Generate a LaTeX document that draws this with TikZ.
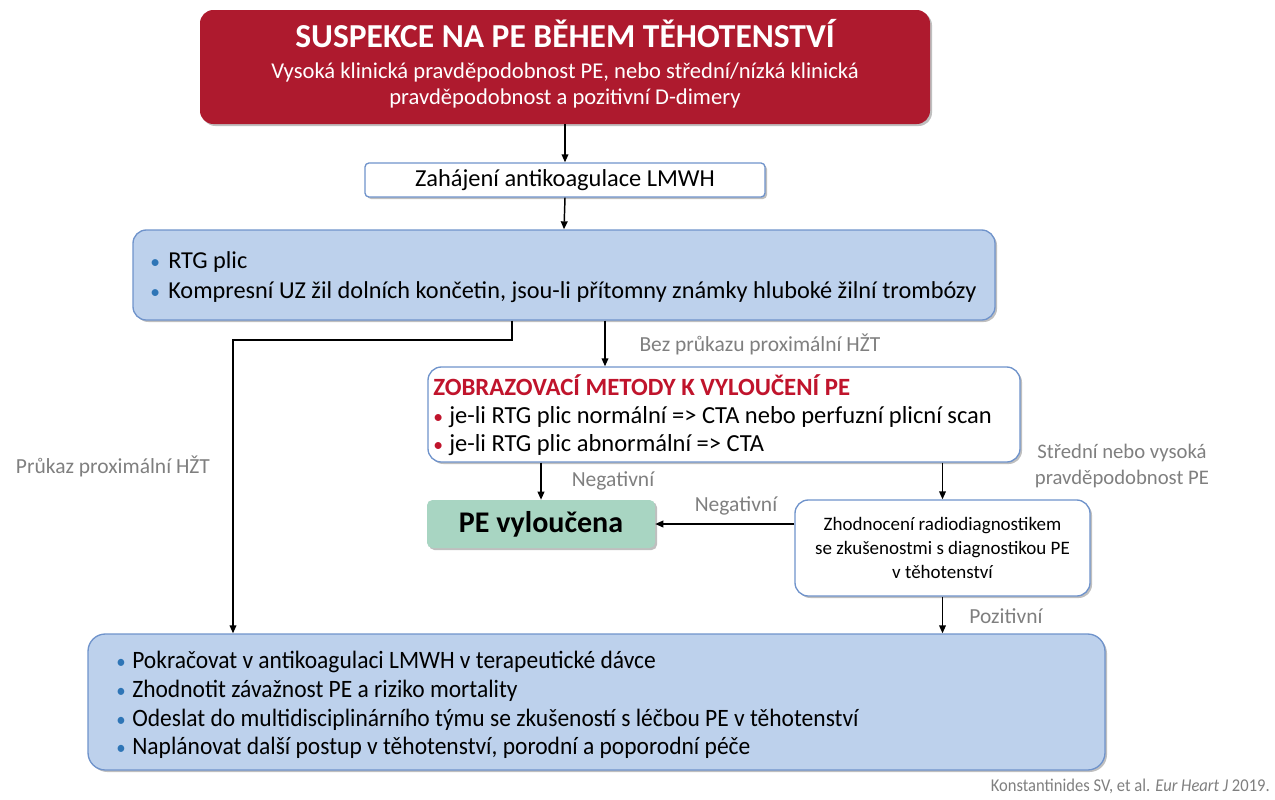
\documentclass[tikz,border=0pt]{standalone}
\usepackage{fontspec}
\setmainfont{Carlito}
\newfontfamily\cond{Carlito}[FakeStretch=0.94]
\newfontfamily\condb{Carlito}[FakeStretch=0.92]
\usetikzlibrary{shadows,arrows.meta}
\definecolor{pered}{HTML}{AE1A2E}
\definecolor{boxblue}{HTML}{BDD1EC}
\definecolor{edgeblue}{HTML}{6F93CB}
\definecolor{pegreen}{HTML}{A8D5C2}
\definecolor{bulblue}{HTML}{2E75B6}
\definecolor{bulred}{HTML}{C0142C}
\definecolor{labgray}{HTML}{7F7F7F}
\newcommand\fs[2]{\fontsize{\fpeval{#1*0.75}pt}{\fpeval{#2*0.75}pt}\selectfont}
\newcommand\blt[2]{\makebox[#2][l]{\textcolor{#1}{\scalebox{0.8}{•}}}}
\tikzset{
  shd/.style={drop shadow={shadow xshift=1.5pt,shadow yshift=-1.5pt,opacity=0.25,fill=black}},
  box/.style={shape=rectangle,shd,inner sep=0pt},
  arr/.style={line width=1.1pt,-{Triangle[length=6pt,width=5pt]}},
  lab/.style={text=labgray,font=\fs{21.5}{26},inner sep=0pt,align=center},
  txt/.style={inner sep=0pt}
}
\begin{document}
\begin{tikzpicture}[x=0.75pt,y=-0.75pt]
\useasboundingbox (0,0) rectangle (1275,800);
% boxes
\node[box,fill=pered,rounded corners=10pt,minimum width=730*0.75pt,minimum height=114*0.75pt] (top) at (565,67) {};
\node[box,fill=white,draw=edgeblue,line width=1pt,rounded corners=3pt,minimum width=400*0.75pt,minimum height=34*0.75pt] (lmwh) at (565,180) {};
\node[box,fill=boxblue,draw=edgeblue,line width=1pt,rounded corners=10pt,minimum width=862*0.75pt,minimum height=90*0.75pt] (rtg) at (564,275) {};
\node[box,fill=white,draw=edgeblue,line width=1pt,rounded corners=10pt,minimum width=592*0.75pt,minimum height=95*0.75pt] (zob) at (724,414.5) {};
\node[box,fill=pegreen,rounded corners=4pt,minimum width=228*0.75pt,minimum height=48*0.75pt] (vyl) at (541,524) {};
\node[box,fill=white,draw=edgeblue,line width=1pt,rounded corners=10pt,minimum width=295*0.75pt,minimum height=96*0.75pt] (zh) at (942.5,548) {};
\node[box,fill=boxblue,draw=edgeblue,line width=1pt,rounded corners=13pt,minimum width=1017*0.75pt,minimum height=136*0.75pt] (bot) at (596.5,702) {};
% texts
\node[txt,text=white,font=\bfseries\fs{33.5}{40}] (t1) at (565,34) {SUSPEKCE NA PE BĚHEM TĚHOTENSTVÍ};
\node[txt,text=white,font=\fs{22.6}{26},align=center] (t2) at (565,85) {Vysoká klinická pravděpodobnost PE, nebo střední/nízká klinická\\pravděpodobnost a pozitivní D-dimery};
\node[txt,font=\fs{24.4}{28}] (t3) at (565,180) {Zahájení antikoagulace LMWH};
\node[txt,font=\fs{24.3}{30},align=left,anchor=west] (t4) at (150,277) {\blt{bulblue}{13.5pt}RTG plic\\\blt{bulblue}{13.5pt}Kompresní UZ žil dolních končetin, jsou-li přítomny známky hluboké žilní trombózy};
\node[txt,font=\fs{24.5}{28},align=left,anchor=west] (t5) at (433,415) {\textcolor{bulred}{\bfseries\fs{24.8}{28}ZOBRAZOVACÍ METODY K VYLOUČENÍ PE}\\\blt{bulred}{12pt}je-li RTG plic normální => CTA nebo perfuzní plicní scan\\\blt{bulred}{12pt}je-li RTG plic abnormální => CTA};
\node[txt,font=\bfseries\fs{30}{34}] (t6) at (541,524) {PE vyloučena};
\node[txt,font=\fs{19}{24},align=center] (t7) at (942.5,548) {Zhodnocení radiodiagnostikem\\se zkušenostmi s diagnostikou PE\\v těhotenství};
\node[txt,font=\cond\fs{25}{28.7},align=left,anchor=west] (t8) at (116,705) {\blt{bulblue}{12pt}Pokračovat v antikoagulaci LMWH v terapeutické dávce\\\blt{bulblue}{12pt}Zhodnotit závažnost PE a riziko mortality\\\blt{bulblue}{12pt}Odeslat do multidisciplinárního týmu se zkušeností s léčbou PE v těhotenství\\\blt{bulblue}{12pt}Naplánovat další postup v těhotenství, porodní a poporodní péče};
% labels
\node[lab] (l1) at (760,344) {Bez průkazu proximální HŽT};
\node[lab] (l2) at (113,466) {Průkaz proximální HŽT};
\node[lab] (l3) at (613,481) {Negativní};
\node[lab] (l4) at (736,506) {Negativní};
\node[lab,font=\fs{20.7}{26}] (l5) at (1122,466) {Střední nebo vysoká\\pravděpodobnost PE};
\node[lab] (l6) at (1006,616) {Pozitivní};
\node[txt,text=labgray,font=\condb\fs{18}{20},anchor=east] (cit) at (1270,786) {Konstantinides SV, et al. \textit{Eur Heart J} 2019.};
% connectors
\coordinate (k1) at (512,340);
\coordinate (k2) at (233,340);
\coordinate (k3) at (605,340);
\draw[arr] (top.south) -- (lmwh.north);
\draw[arr] (lmwh.south) -- (rtg.north);
\draw[arr] (rtg.south -| k1) -- (k1) -- (k2) -- (k2 |- bot.north);
\draw[arr] (rtg.south -| k3) -- (zob.north -| k3);
\draw[arr] (zob.south -| vyl.north) -- (vyl.north);
\draw[arr] (zob.south -| zh.north) -- (zh.north);
\draw[arr] (zh.west |- vyl.east) -- (vyl.east);
\draw[arr] (zh.south) -- (bot.north -| zh.south);
\end{tikzpicture}
\end{document}
